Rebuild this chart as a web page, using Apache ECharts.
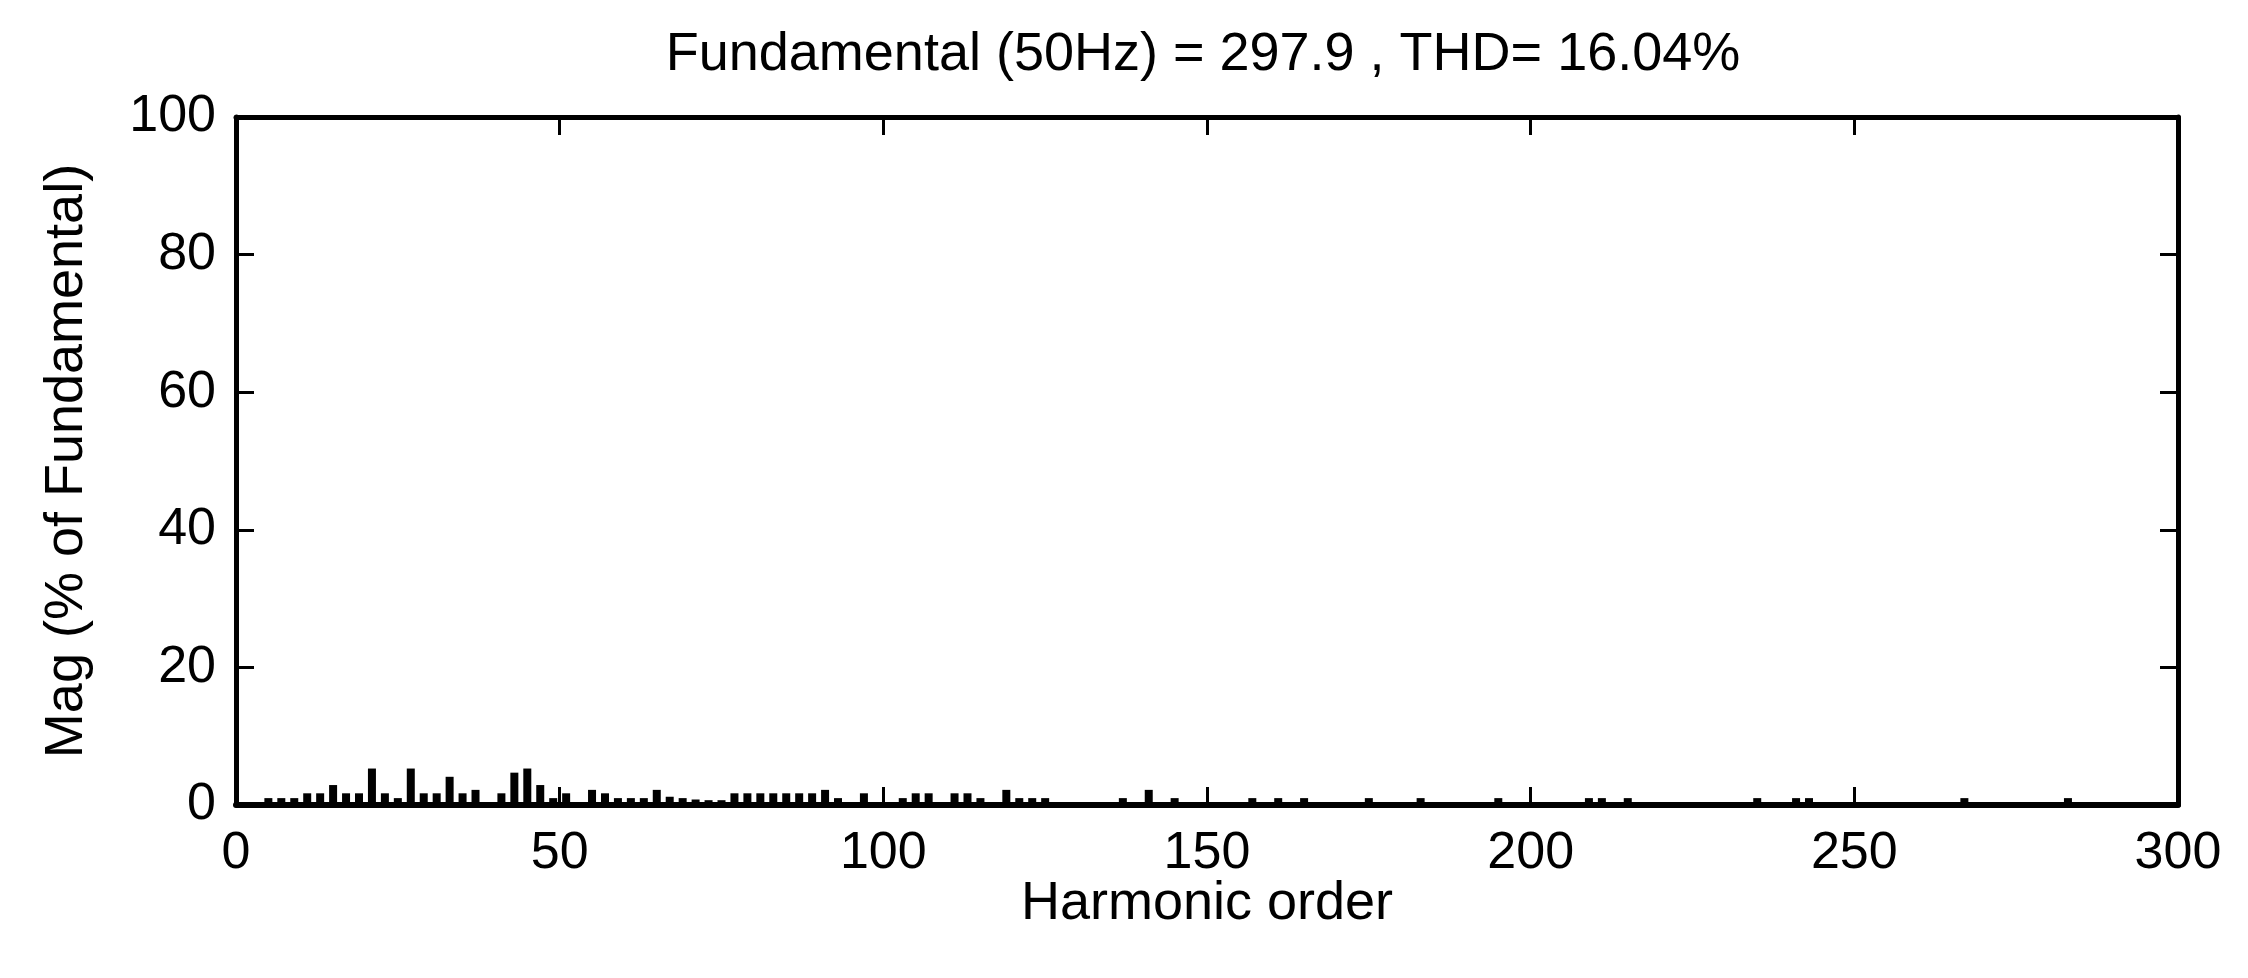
<!DOCTYPE html>
<html>
<head>
<meta charset="utf-8">
<title>FFT harmonic spectrum</title>
<script src="https://cdn.jsdelivr.net/npm/echarts@6/dist/echarts.min.js"></script>
<style>
  html, body { margin: 0; padding: 0; background: #fff; }
  #main { width: 2248px; height: 978px; }
</style>
</head>
<body>
<div id="main"></div>
<script>
// harmonic orders that show a visible bar, and their magnitude (% of fundamental)
var harmonicOrders = [5, 7, 9, 11, 13, 15, 17, 19, 21, 23, 25, 27, 29, 31, 33, 35, 37, 41, 43, 45, 47, 49,
    51, 55, 57, 59, 61, 63, 65, 67, 69, 71, 73, 75, 77, 79, 81, 83, 85, 87, 89, 91, 93, 97,
    103, 105, 107, 111, 113, 115, 119, 121, 123, 125, 137, 141, 145,
    157, 161, 165, 175, 183, 195,
    209, 211, 215, 235, 241, 243, 267, 283];
var magnitudes = [1.0, 1.0, 1.0, 1.7, 1.7, 2.9, 1.7, 1.7, 5.3, 1.7, 1.0, 5.3, 1.7, 1.7, 4.1, 1.7, 2.2, 1.7, 4.7, 5.3, 2.9, 1.0,
    1.7, 2.2, 1.7, 1.0, 1.0, 1.0, 2.2, 1.2, 1.0, 0.8, 0.7, 0.7, 1.7, 1.7, 1.7, 1.7, 1.7, 1.7, 1.7, 2.2, 1.0, 1.7,
    1.0, 1.7, 1.7, 1.7, 1.7, 1.0, 2.2, 1.0, 1.0, 1.0, 1.0, 2.2, 1.0,
    1.0, 1.0, 1.0, 1.0, 1.0, 1.0,
    1.0, 1.0, 1.0, 1.0, 1.0, 1.0, 1.0, 1.0];

var fundamental = 297.9;
var thd = 16.04;
var xRange = [0, 300, 50];   // min, max, tick step
var yRange = [0, 100, 20];

var font = '"Liberation Sans", Arial, Helvetica, sans-serif';

init()

function init() {
    var myChart = echarts.init(document.getElementById('main'));
    var data = harmonicOrders.map(function(h, i) {
        return [h, magnitudes[i]];
    });

    var lineStyle = { color: '#000', width: 5 };
    var tickStyle = { show: true, inside: true, length: 18, lineStyle: { color: '#000', width: 3 } };

    var option = {
        animation: false,
        backgroundColor: '#fff',
        title: {
            text: 'Fundamental (50Hz) = ' + fundamental + ' , THD= ' + thd.toFixed(2) + '%',
            left: 1203,
            top: 28,
            padding: 0,
            textAlign: 'center',
            textStyle: { fontFamily: font, fontSize: 54, fontWeight: 'normal', color: '#000' }
        },
        grid: { left: 236, right: 70, top: 117, bottom: 173 },
        xAxis: [{
            type: 'value',
            position: 'bottom',
            min: xRange[0], max: xRange[1], interval: xRange[2],
            name: 'Harmonic order',
            nameLocation: 'middle',
            nameGap: 72,
            nameMoveOverlap: false,
            nameTextStyle: { fontFamily: font, fontSize: 54, color: '#000' },
            axisLine: { show: true, onZero: false, lineStyle: { color: '#000', width: 6 } },
            axisTick: tickStyle,
            axisLabel: { margin: 23, fontFamily: font, fontSize: 52, color: '#000' },
            splitLine: { show: false }
        }, {
            type: 'value',
            position: 'top',
            min: xRange[0], max: xRange[1], interval: xRange[2],
            axisLine: { show: true, onZero: false, lineStyle: lineStyle },
            axisTick: tickStyle,
            axisLabel: { show: false },
            splitLine: { show: false }
        }],
        yAxis: [{
            type: 'value',
            position: 'left',
            min: yRange[0], max: yRange[1], interval: yRange[2],
            name: 'Mag (% of Fundamental)',
            nameLocation: 'middle',
            nameGap: 142,
            nameMoveOverlap: false,
            nameTextStyle: { fontFamily: font, fontSize: 54, color: '#000' },
            axisLine: { show: true, onZero: false, lineStyle: lineStyle },
            axisTick: tickStyle,
            axisLabel: { margin: 20, fontFamily: font, fontSize: 52, color: '#000' },
            splitLine: { show: false }
        }, {
            type: 'value',
            position: 'right',
            min: yRange[0], max: yRange[1], interval: yRange[2],
            axisLine: { show: true, onZero: false, lineStyle: lineStyle },
            axisTick: tickStyle,
            axisLabel: { show: false },
            splitLine: { show: false }
        }],
        series: [{
            type: 'bar',
            xAxisIndex: 0,
            yAxisIndex: 0,
            barWidth: 8,
            itemStyle: { color: '#000' },
            data: data
        }]
    };
    myChart.setOption(option);
}
</script>
</body>
</html>
